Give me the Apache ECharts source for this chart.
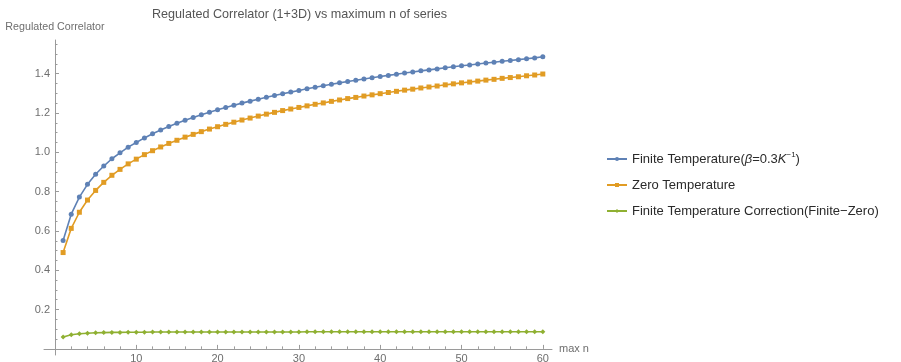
<!DOCTYPE html>
<html>
<head>
<meta charset="utf-8">
<script src="https://cdn.jsdelivr.net/npm/echarts@6/dist/echarts.min.js"></script>
<style>
  html, body { margin: 0; padding: 0; background: #fff; }
  #chart { width: 901px; height: 362px; }
</style>
</head>
<body>
<div id="chart"></div>
<script>
// max n of series
const nValues = [
  1, 2, 3, 4, 5, 6, 7, 8, 9, 10, 11, 12, 13, 14, 15, 16, 17, 18, 19, 20,
  21, 22, 23, 24, 25, 26, 27, 28, 29, 30, 31, 32, 33, 34, 35, 36, 37, 38, 39, 40,
  41, 42, 43, 44, 45, 46, 47, 48, 49, 50, 51, 52, 53, 54, 55, 56, 57, 58, 59, 60
];

// Finite temperature correlator (beta = 0.3 K^-1)
const finiteTemp = [
  0.551, 0.685, 0.772, 0.837, 0.888, 0.930, 0.967, 0.997, 1.026, 1.050,
  1.073, 1.094, 1.113, 1.131, 1.147, 1.163, 1.177, 1.191, 1.204, 1.216,
  1.228, 1.239, 1.250, 1.260, 1.270, 1.280, 1.289, 1.298, 1.306, 1.314,
  1.323, 1.331, 1.338, 1.346, 1.353, 1.360, 1.366, 1.373, 1.379, 1.385,
  1.391, 1.397, 1.403, 1.408, 1.414, 1.419, 1.424, 1.430, 1.435, 1.440,
  1.444, 1.449, 1.454, 1.458, 1.463, 1.467, 1.471, 1.476, 1.480, 1.486
];

// Zero temperature correlator
const zeroTemp = [
  0.490, 0.613, 0.695, 0.757, 0.806, 0.847, 0.883, 0.913, 0.941, 0.965,
  0.988, 1.008, 1.027, 1.045, 1.061, 1.077, 1.091, 1.105, 1.118, 1.130,
  1.142, 1.153, 1.164, 1.174, 1.184, 1.194, 1.203, 1.212, 1.220, 1.228,
  1.236, 1.244, 1.251, 1.259, 1.266, 1.273, 1.279, 1.286, 1.292, 1.298,
  1.304, 1.310, 1.316, 1.321, 1.327, 1.332, 1.337, 1.343, 1.348, 1.353,
  1.357, 1.362, 1.367, 1.371, 1.376, 1.380, 1.384, 1.389, 1.393, 1.398
];

// Finite temperature correction (finite - zero)
const correction = [
  0.061, 0.072, 0.077, 0.080, 0.082, 0.083, 0.084, 0.084, 0.085, 0.085,
  0.085, 0.086, 0.086, 0.086, 0.086, 0.086, 0.086, 0.086, 0.086, 0.086,
  0.086, 0.086, 0.086, 0.086, 0.086, 0.086, 0.086, 0.086, 0.086, 0.086,
  0.087, 0.087, 0.087, 0.087, 0.087, 0.087, 0.087, 0.087, 0.087, 0.087,
  0.087, 0.087, 0.087, 0.087, 0.087, 0.087, 0.087, 0.087, 0.087, 0.087,
  0.087, 0.087, 0.087, 0.087, 0.087, 0.087, 0.087, 0.087, 0.087, 0.087
];

const seriesNames = [
  'Finite Temperature(β=0.3K⁻¹)',
  'Zero Temperature',
  'Finite Temperature Correction(Finite−Zero)'
];

const xMajorTicks = [10, 20, 30, 40, 50, 60];
const xMinorTicks = [2, 4, 6, 8, 12, 14, 16, 18, 22, 24, 26, 28, 32, 34, 36, 38,
  42, 44, 46, 48, 52, 54, 56, 58];
const yMajorTicks = [0.2, 0.4, 0.6, 0.8, 1.0, 1.2, 1.4];
const yMinorTicks = [0.05, 0.1, 0.15, 0.25, 0.3, 0.35, 0.45, 0.5, 0.55, 0.65, 0.7,
  0.75, 0.85, 0.9, 0.95, 1.05, 1.1, 1.15, 1.25, 1.3, 1.35, 1.45, 1.5, 1.55];

const FONT = '"Liberation Sans", Arial, sans-serif';
const AXIS_COLOR = '#9a9a9a';
const LABEL_COLOR = '#6e6e6e';

const colors = ['#5e81b5', '#e19c24', '#8fb032'];

function pairs(values) {
  return nValues.map((n, i) => [n, values[i]]);
}

const xRange = { min: -1.35, max: 61.13 };
const yRange = { min: -0.031, max: 1.571 };

const chart = echarts.init(document.getElementById('chart'), null, { renderer: 'canvas' });

chart.setOption({
  animation: false,
  backgroundColor: '#ffffff',
  textStyle: { fontFamily: FONT },
  title: {
    text: 'Regulated Correlator (1+3D) vs maximum n of series',
    left: 147,
    top: 3,
    textStyle: { fontFamily: FONT, fontSize: 12.6, fontWeight: 'normal', color: '#555555' }
  },
  legend: {
    orient: 'vertical',
    left: 601,
    top: 146,
    itemWidth: 20,
    itemHeight: 5,
    itemGap: 13,
    data: seriesNames,
    formatter: function (name) {
      if (name === seriesNames[0]) {
        return '{n|Finite Temperature(}{i|β}{n|=0.3}{i|K}{s|−1}{n|)}';
      }
      return '{n|' + name + '}';
    },
    textStyle: {
      fontFamily: FONT,
      fontSize: 13,
      color: '#2a2a2a',
      rich: {
        n: { fontFamily: FONT, fontSize: 13, color: '#2a2a2a', lineHeight: 16 },
        i: { fontFamily: FONT, fontSize: 13, color: '#2a2a2a', fontStyle: 'italic', lineHeight: 16 },
        s: { fontFamily: FONT, fontSize: 8, color: '#2a2a2a', verticalAlign: 'top', lineHeight: 16, padding: [0, 0, 6, 0] }
      }
    }
  },
  grid: {
    left: 44,
    right: 349,
    top: 40,
    bottom: 7,
    containLabel: false,
    outerBoundsMode: 'none'
  },
  xAxis: [
    {
      type: 'value',
      position: 'bottom',
      min: xRange.min,
      max: xRange.max,
      name: 'max n',
      nameLocation: 'end',
      nameGap: 7,
      nameTextStyle: { fontFamily: FONT, fontSize: 11, color: LABEL_COLOR, verticalAlign: 'middle' },
      axisLine: { onZero: true, lineStyle: { color: AXIS_COLOR, width: 1 } },
      axisTick: { show: true, inside: true, length: 4, customValues: xMajorTicks, lineStyle: { color: AXIS_COLOR } },
      axisLabel: { show: true, customValues: xMajorTicks, margin: -2, fontFamily: FONT, fontSize: 11, color: LABEL_COLOR },
      splitLine: { show: false }
    },
    {
      type: 'value',
      position: 'bottom',
      min: xRange.min,
      max: xRange.max,
      axisLine: { show: false, onZero: true },
      axisTick: { show: true, inside: true, length: 2.5, customValues: xMinorTicks, lineStyle: { color: AXIS_COLOR } },
      axisLabel: { show: false },
      splitLine: { show: false }
    }
  ],
  yAxis: [
    {
      type: 'value',
      position: 'left',
      min: yRange.min,
      max: yRange.max,
      name: 'Regulated Correlator',
      nameLocation: 'end',
      nameGap: 7,
      nameTextStyle: { fontFamily: FONT, fontSize: 10.7, color: LABEL_COLOR, align: 'center' },
      axisLine: { onZero: true, lineStyle: { color: AXIS_COLOR, width: 1 } },
      axisTick: { show: true, inside: true, length: 4, customValues: yMajorTicks, lineStyle: { color: AXIS_COLOR } },
      axisLabel: {
        show: true,
        customValues: yMajorTicks,
        margin: -6,
        fontFamily: FONT,
        fontSize: 11,
        color: LABEL_COLOR,
        formatter: v => v.toFixed(1)
      },
      splitLine: { show: false }
    },
    {
      type: 'value',
      position: 'left',
      min: yRange.min,
      max: yRange.max,
      axisLine: { show: false, onZero: true },
      axisTick: { show: true, inside: true, length: 2.5, customValues: yMinorTicks, lineStyle: { color: AXIS_COLOR } },
      axisLabel: { show: false },
      splitLine: { show: false }
    }
  ],
  series: [
    {
      name: seriesNames[0],
      type: 'line',
      data: pairs(finiteTemp),
      symbol: 'circle',
      symbolSize: 5,
      showAllSymbol: true,
      itemStyle: { color: colors[0] },
      lineStyle: { color: colors[0], width: 1.6 }
    },
    {
      name: seriesNames[1],
      type: 'line',
      data: pairs(zeroTemp),
      symbol: 'rect',
      symbolSize: 5,
      showAllSymbol: true,
      itemStyle: { color: colors[1] },
      lineStyle: { color: colors[1], width: 1.6 }
    },
    {
      name: seriesNames[2],
      type: 'line',
      data: pairs(correction),
      symbol: 'diamond',
      symbolSize: 5,
      showAllSymbol: true,
      itemStyle: { color: colors[2] },
      lineStyle: { color: colors[2], width: 1.6 }
    }
  ]
});
</script>
</body>
</html>
